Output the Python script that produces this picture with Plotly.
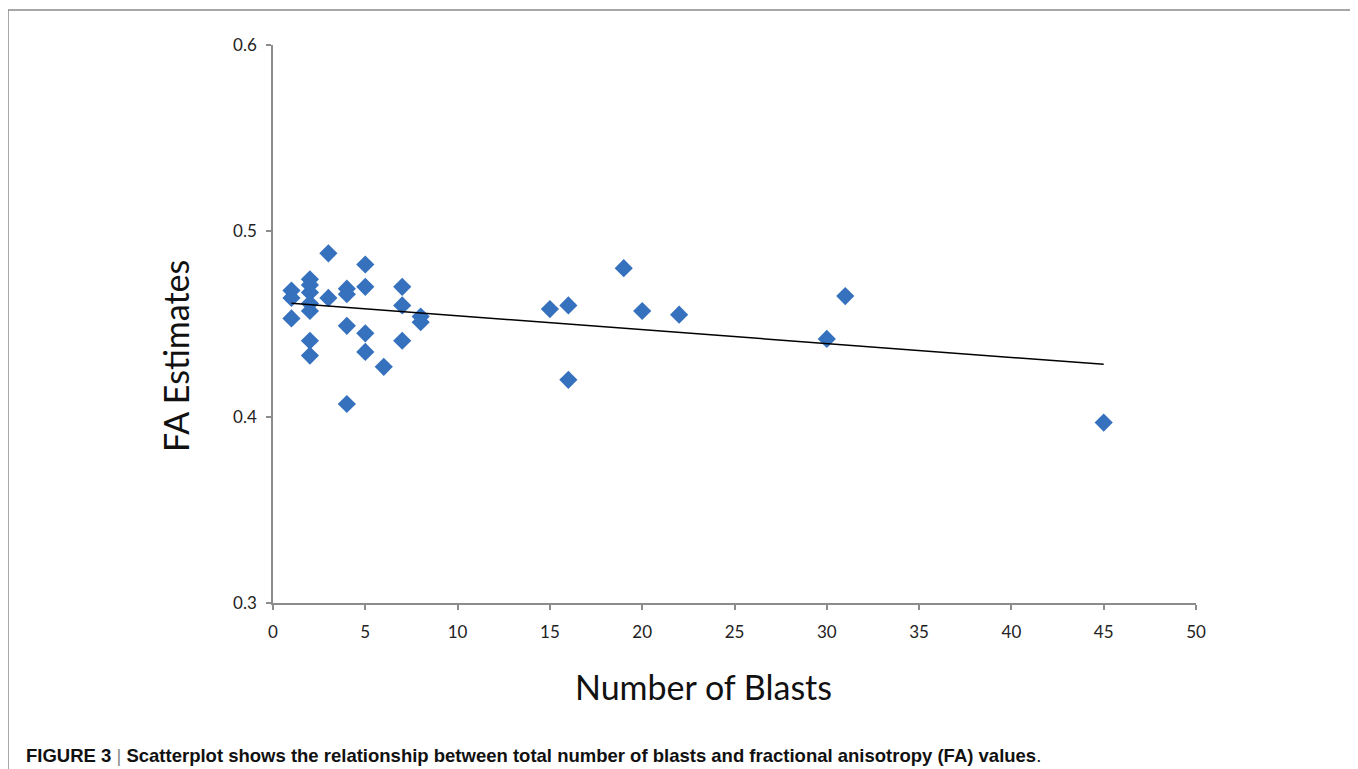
import plotly.graph_objects as go

# Data
blasts = [1, 1, 1,
          2, 2, 2, 2, 2, 2, 2,
          3, 3,
          4, 4, 4, 4,
          5, 5, 5, 5,
          6,
          7, 7, 7,
          8, 8,
          15, 16, 16, 19, 20, 22, 30, 31, 45]
fa_values = [0.468, 0.464, 0.453,
             0.474, 0.471, 0.467, 0.461, 0.457, 0.441, 0.433,
             0.488, 0.464,
             0.469, 0.466, 0.449, 0.407,
             0.482, 0.470, 0.445, 0.435,
             0.427,
             0.470, 0.460, 0.441,
             0.454, 0.451,
             0.458, 0.460, 0.420, 0.480, 0.457, 0.455, 0.442, 0.465, 0.397]
trend_x = [1, 45]
trend_y = [0.4611, 0.4283]

x_ticks = [0, 5, 10, 15, 20, 25, 30, 35, 40, 45, 50]
y_ticks = [0.3, 0.4, 0.5, 0.6]
y_tick_labels = ["0.3", "0.4", "0.5", "0.6"]

OFF = 8  # page body margin
W, H = 1350, 761
L = 273 - OFF
T = 45 - OFF
R = W - (1196 - OFF)
B = H - (603 - OFF)
pw, ph = W - L - R, H - T - B


def px(xs):
    return (xs - OFF - L) / pw


def py(ys):
    return (H - B - (ys - OFF)) / ph


fig = go.Figure()

fig.add_trace(go.Scatter(
    x=blasts, y=fa_values, mode="markers",
    marker=dict(symbol="diamond", size=14, color="#3671BE",
                line=dict(width=0)),
    showlegend=False, hoverinfo="x+y",
))
fig.add_trace(go.Scatter(
    x=trend_x, y=trend_y, mode="lines",
    line=dict(color="black", width=1.5),
    showlegend=False, hoverinfo="skip",
))

axis_common = dict(
    showgrid=False, zeroline=False, showline=True,
    linecolor="#8c8c8c", linewidth=1.5,
    ticks="outside", ticklen=5, tickcolor="#8c8c8c", tickwidth=1.5,
    tickfont=dict(family="Lato, Open Sans, sans-serif", size=17, color="#222"),
    fixedrange=True,
)

fig.update_xaxes(range=[0, 50], tickvals=x_ticks, ticklabelstandoff=8, **axis_common)
fig.update_yaxes(range=[0.3, 0.6], tickvals=y_ticks, ticktext=y_tick_labels,
                 ticklabelstandoff=6, **axis_common)

annotations = [
    dict(text="Number of Blasts", x=px(703), y=py(686), xref="paper", yref="paper",
         showarrow=False, xanchor="center", yanchor="middle",
         font=dict(family="Lato, Open Sans, sans-serif", size=34, color="#111")),
    dict(text="FA Estimates", x=px(175), y=py(356), xref="paper", yref="paper",
         showarrow=False, xanchor="center", yanchor="middle", textangle=-90,
         font=dict(family="Lato, Open Sans, sans-serif", size=34, color="#111")),
    dict(text="<b>FIGURE 3</b> <span style='color:#888'>|</span> <b>Scatterplot shows the relationship between total number of blasts and fractional anisotropy (FA) values</b>.",
         x=px(24), y=py(755), xref="paper", yref="paper",
         showarrow=False, xanchor="left", yanchor="middle",
         font=dict(family="Liberation Sans Narrow, Arial Narrow, Liberation Sans, sans-serif",
                   size=18.5, color="#111")),
]

shapes = [
    dict(type="rect", xref="paper", yref="paper",
         x0=px(8), x1=px(1355), y0=py(800), y1=py(10),
         line=dict(color="#8a8a8a", width=1.5), fillcolor="rgba(0,0,0,0)", layer="below"),
]

fig.update_layout(
    width=W, height=H,
    margin=dict(l=L, r=R, t=T, b=B),
    paper_bgcolor="white", plot_bgcolor="white",
    annotations=annotations, shapes=shapes,
    showlegend=False,
)

fig.write_html("out.html", include_plotlyjs=True, config={"displayModeBar": False})
